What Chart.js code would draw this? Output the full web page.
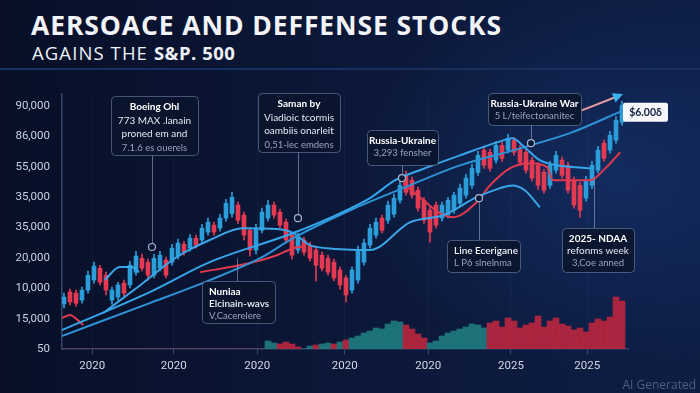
<!DOCTYPE html>
<html>
<head>
<meta charset="utf-8">
<script src="https://cdn.jsdelivr.net/npm/chart.js@4.4.1/dist/chart.umd.min.js"></script>
<style>
  html, body { margin: 0; padding: 0; }
  body {
    width: 700px; height: 393px; overflow: hidden; position: relative;
    background:
      radial-gradient(ellipse 55% 70% at 88% 45%, rgba(28, 62, 130, 0.45), rgba(0, 0, 0, 0) 70%),
      linear-gradient(90deg, #080f27 0%, #0b1737 45%, #0d1d44 100%);
    font-family: "Open Sans", sans-serif;
  }
  #title {
    position: absolute; left: 31px; top: 12px; margin: 0;
    font-size: 26.5px; line-height: 1; font-weight: 700; color: #f2f4f9; letter-spacing: 0.9px;
  }
  #subtitle {
    position: absolute; left: 32px; top: 44px; margin: 0;
    font-size: 18.5px; line-height: 1; font-weight: 400; color: #eef1f7; letter-spacing: 1.1px;
  }
  #subtitle b { font-weight: 700; letter-spacing: 0.5px; }
  #rule { position: absolute; left: 0; top: 68px; width: 700px; height: 2px; background: #17305e; }
  #stamp { position: absolute; right: 4px; top: 376px; font-size: 12px; color: #4f5e7b; }
  #chart { position: absolute; left: 0; top: 0; }
</style>
</head>
<body>
<h1 id="title">AERSOACE AND DEFFENSE STOCKS</h1>
<p id="subtitle">AGAINS THE <b>S&amp;P. 500</b></p>
<div id="rule"></div>
<canvas id="chart" width="700" height="393"></canvas>
<div id="stamp">AI Generated</div>
<script>
// axis labels (as printed on the picture)
const xLabels = ["2020", "2020", "2020", "2020", "2020", "2025", "2025"];
const xTickAt = [4.7, 18.3, 32.2, 46.8, 60.7, 74.5, 87.2];
const yLabels = ["50", "15,000", "10,000", "20,000", "35,000", "35,000", "55,000", "86,000", "90,000"];

// weekly candles, price in axis units (10 units per tick)
const opens = [
  14.8, 18.8, 18.4, 16.1, 19.4, 22.7, 26.6, 24.3, 16.1, 17.1,
  21.7, 21.1, 25.3, 29.9, 28.6, 24.3, 26.6, 29.3, 28.6, 30.6,
  34.5, 33.2, 36.5, 35.9, 38.5, 40.8, 39.8, 43.1, 44.6, 47.4,
  44.1, 39.1, 32.6, 39.1, 43.1, 47.4, 45.1, 41.8, 37.5, 32.6,
  35.9, 34.2, 32.6, 30.9, 29.9, 28.6, 26.0, 23.4, 19.4, 22.7,
  28.6, 34.2, 37.5, 43.1, 42.4, 44.4, 49.0, 57.2, 55.6, 52.3,
  49.0, 45.7, 47.4, 43.1, 44.1, 45.7, 48.0, 50.7, 53.9, 58.2,
  65.5, 64.8, 62.2, 67.1, 65.5, 68.8, 66.1, 64.8, 62.2, 60.5,
  58.2, 53.9, 58.9, 62.2, 60.5, 55.6, 53.9, 49.7, 53.9, 58.9,
  67.8, 65.5, 68.8, 74.7
];
const closes = [
  17.1, 15.5, 15.1, 19.4, 24.3, 27.3, 22.0, 19.4, 19.4, 21.1,
  18.4, 27.6, 30.6, 26.6, 24.3, 29.9, 30.9, 24.3, 33.2, 34.9,
  31.9, 36.5, 34.2, 39.8, 41.8, 38.5, 43.1, 48.0, 50.0, 42.4,
  37.5, 32.6, 39.8, 45.1, 47.4, 44.1, 40.8, 35.9, 30.9, 36.8,
  31.9, 29.9, 27.6, 26.6, 25.3, 23.4, 21.1, 17.8, 26.0, 32.6,
  34.9, 39.8, 41.8, 39.1, 47.4, 49.7, 53.9, 51.6, 50.7, 46.4,
  42.4, 38.5, 40.8, 47.4, 49.0, 50.7, 53.0, 56.3, 59.5, 63.8,
  60.5, 59.5, 67.1, 62.8, 69.4, 64.8, 61.5, 58.9, 56.3, 53.9,
  52.3, 60.5, 63.8, 57.2, 52.3, 47.4, 45.7, 55.6, 60.5, 65.5,
  62.8, 70.4, 75.3, 80.3
];
const highs = [
  18.4, 19.7, 19.4, 20.4, 25.7, 28.6, 27.6, 25.3, 20.4, 22.0,
  22.7, 28.9, 32.2, 31.3, 29.6, 31.3, 32.2, 30.3, 34.5, 36.2,
  35.5, 37.8, 37.5, 41.1, 43.1, 41.8, 44.4, 49.3, 51.6, 48.4,
  45.1, 40.1, 41.1, 46.4, 49.0, 48.4, 46.1, 42.8, 38.5, 38.2,
  36.8, 35.2, 33.6, 31.9, 30.9, 29.6, 27.0, 24.3, 27.0, 33.9,
  36.2, 41.1, 43.1, 44.1, 48.7, 51.0, 55.3, 58.6, 56.6, 53.3,
  50.0, 46.7, 48.4, 48.4, 50.0, 51.6, 54.3, 57.6, 60.9, 65.1,
  66.8, 65.8, 68.4, 68.1, 70.7, 69.7, 67.1, 65.8, 63.2, 61.5,
  59.2, 61.8, 65.1, 63.2, 61.5, 56.6, 54.9, 56.9, 61.8, 66.8,
  68.8, 71.7, 76.6, 81.6
];
const lows = [
  13.5, 14.5, 14.1, 15.1, 18.4, 21.7, 21.1, 17.8, 14.8, 16.1,
  17.4, 20.1, 24.3, 25.7, 22.7, 23.4, 25.7, 23.4, 27.6, 29.6,
  30.9, 32.2, 33.2, 34.9, 37.5, 37.5, 38.8, 42.1, 43.4, 41.4,
  35.9, 30.6, 31.3, 38.2, 42.1, 43.1, 39.8, 34.9, 29.6, 31.6,
  30.9, 28.9, 22.4, 25.7, 24.3, 22.4, 19.7, 15.5, 18.4, 21.7,
  27.6, 33.2, 36.5, 38.2, 41.4, 43.4, 48.0, 50.7, 49.7, 45.4,
  41.4, 35.2, 39.8, 42.1, 43.1, 44.7, 47.0, 49.7, 52.9, 57.2,
  59.5, 58.6, 61.2, 61.8, 64.5, 63.8, 60.5, 57.9, 55.3, 52.6,
  51.3, 52.9, 57.9, 56.3, 51.3, 46.4, 43.4, 48.7, 52.9, 57.9,
  61.8, 64.5, 67.8, 73.7
];

// volume per week and whether it was buy (1) or sell (0) volume
const volumes = [
  0, 0, 0, 0, 0, 0, 0, 0, 0, 0,
  0, 0, 0, 0, 0, 0, 0, 0, 0, 0,
  0, 0, 0, 0, 0, 0, 0, 0, 0, 0,
  0, 0, 0, 0, 8, 6, 5, 7, 5, 2,
  0, 3, 4, 5, 6, 5, 7, 9, 11, 13,
  16, 18, 21, 20, 25, 28, 27, 24, 20, 15,
  11, 6, 8, 13, 16, 18, 20, 22, 25, 24,
  21, 26, 28, 22, 31, 28, 21, 24, 26, 33,
  22, 28, 31, 25, 23, 19, 21, 17, 26, 30,
  28, 32, 52, 48
];
const volUp = [
  0, 0, 0, 0, 0, 0, 0, 0, 0, 0,
  0, 0, 0, 0, 0, 0, 0, 0, 0, 0,
  0, 0, 0, 0, 0, 0, 0, 0, 0, 0,
  0, 0, 0, 0, 1, 1, 0, 0, 0, 0,
  1, 1, 0, 1, 1, 0, 1, 0, 1, 1,
  1, 1, 1, 1, 1, 1, 1, 0, 0, 0,
  0, 1, 1, 1, 1, 1, 1, 1, 1, 1,
  1, 0, 0, 0, 0, 0, 0, 0, 0, 0,
  0, 0, 0, 0, 0, 0, 0, 0, 0, 0,
  0, 0, 0, 0
];

// overlay lines: week index / value
const trendAx = [-0.33, 14.3, 24.3, 38.2, 46.0, 51.0, 55.2, 59.3, 66.0, 72.7, 74.7, 76.8, 79.3, 82.2, 87.7];
const trendAy = [6.25, 18.75, 28.6, 38.2, 44.7, 49.7, 55.6, 58.9, 63.8, 68.4, 69.4, 66.4, 62.2, 60.5, 59.5];
const trendCx = [-0.33, 14.3, 24.3, 32.7, 38.2, 47.7, 56.5, 66.0, 76.0, 84.3, 93.2];
const trendCy = [4.3, 15.1, 22.7, 29.9, 36.5, 45.7, 53.0, 60.5, 66.1, 71.1, 78.6];
const waveBx = [6.5, 12.7, 18.8, 24.3, 29.8, 35.5, 38.2, 41.0, 43.8, 51.0, 57.7, 63.2, 68.8, 72.7, 74.7, 76.8, 79.3];
const waveBy = [11.8, 21.0, 30.3, 35.9, 39.8, 39.5, 38.2, 34.2, 33.2, 32.6, 41.8, 44.1, 50.0, 53.0, 53.9, 52.3, 46.7];
const bumpDx = [6.8, 9.3, 11.3, 12.5];
const bumpDy = [22.7, 27.0, 27.0, 25.3];
const redAx = [-0.33, 1.0, 2.3, 3.2];
const redAy = [10.2, 11.2, 9.5, 7.9];
const redBx = [22.7, 31.0, 35.5, 38.2, 40.2];
const redBy = [25.3, 28.3, 30.9, 33.2, 33.9];
const redCx = [56.5, 60.5, 62.7, 64.8, 68.8, 71.0, 74.3, 77.7, 80.5, 81.5, 87.7, 90.2, 92.7];
const redCy = [54.6, 48.0, 44.7, 43.4, 48.4, 53.9, 59.5, 61.2, 59.9, 55.6, 55.6, 59.5, 64.8];

const UP = "#2b9ed9", DOWN = "#e33a52";
const idx = opens.map((_, i) => i);
const candleCol = idx.map(i => (closes[i] >= opens[i] ? UP : DOWN));
const volCol = idx.map(i => (volUp[i] ? "rgba(30,124,126,0.9)" : "rgba(186,38,62,0.9)"));
const pts = (xs, ys) => xs.map((v, k) => ({ x: v, y: ys[k] }));

function lineSet(xs, ys, color, width) {
  return {
    type: "line", data: pts(xs, ys), borderColor: color, borderWidth: width,
    pointRadius: 0, fill: false, cubicInterpolationMode: "monotone", order: 1
  };
}

// callouts: anchor in data units, box in page pixels
const notes = [
  { at: [14.67, 33.6], ring: true, box: [111, 96, 87, 59], align: "center", first: 11, step: 13.5,
    lines: [["Boeing Ohl", "b"], ["773 MAX .lanain", "w"], ["proned em and", "w"], ["7.1.6 es ouerels", "g"]] },
  { at: [39.0, 43.1], ring: true, box: [258, 93, 82, 59], align: "center", first: 11, step: 13.5,
    lines: [["Saman by", "b"], ["Viadioic tcormis", "w"], ["oambiis onarleit", "w"], ["0,51-lec emdens", "g"]] },
  { at: [56.33, 56.3], ring: true, box: [367, 130, 71, 35], align: "center", first: 10.5, step: 12,
    lines: [["Russia-Ukraine", "b"], ["3,293 fensher", "g"]] },
  { at: [77.83, 67.8], ring: true, box: [488, 93, 93, 32], align: "center", first: 10.5, step: 12.5,
    lines: [["Russia-Ukraine War", "b"], ["5 L/teifectonanitec", "g"]] },
  { at: [28.83, 29.9], ring: false, box: [202, 281, 73, 42], align: "left", first: 10.5, step: 12,
    lines: [["Nuniaa", "b"], ["Elcinain-wavs", "s"], ["V,Cacerelere", "g"]] },
  { at: [69.17, 49.7], ring: true, box: [447, 240, 73, 32], align: "left", first: 10.5, step: 12,
    lines: [["Line Ecerigane", "s"], ["L P6 slnelnma", "g"]] },
  { at: [88.33, 56.3], ring: false, box: [562, 228, 72, 44], align: "center", first: 11, step: 12,
    lines: [["2025- NDAA", "b"], ["refonms week", "w"], ["3,Coe anned", "g"]] }
];
const lineStyle = {
  b: ["bold 10px Lato", "#ffffff"],
  s: ["600 10px Lato", "#eef1f7"],
  w: ["10px Lato", "#e4e8f0"],
  g: ["9.5px Lato", "#98a4bb"]
};

function roundRect(ctx, x, y, w, h, r) {
  ctx.beginPath();
  ctx.moveTo(x + r, y);
  ctx.arcTo(x + w, y, x + w, y + h, r);
  ctx.arcTo(x + w, y + h, x, y + h, r);
  ctx.arcTo(x, y + h, x, y, r);
  ctx.arcTo(x, y, x + w, y, r);
  ctx.closePath();
}

const callouts = {
  id: "callouts",
  afterDatasetsDraw(chart) {
    const { ctx, scales: { x, y } } = chart;
    ctx.save();

    // trend arrow and last price tag
    const a0x = x.getPixelForValue(86.3), a0y = y.getPixelForValue(78.6);
    const a1x = x.getPixelForValue(92.7), a1y = y.getPixelForValue(83.6);
    ctx.strokeStyle = "#e79c9f"; ctx.lineWidth = 2;
    ctx.beginPath(); ctx.moveTo(a0x, a0y); ctx.lineTo(a1x, a1y); ctx.stroke();
    const ang = Math.atan2(a1y - a0y, a1x - a0x);
    ctx.fillStyle = "#3db4ee";
    ctx.beginPath();
    ctx.moveTo(a1x + 3 * Math.cos(ang), a1y + 3 * Math.sin(ang));
    ctx.lineTo(a1x - 7 * Math.cos(ang) - 5 * Math.sin(ang), a1y - 7 * Math.sin(ang) + 5 * Math.cos(ang));
    ctx.lineTo(a1x - 7 * Math.cos(ang) + 5 * Math.sin(ang), a1y - 7 * Math.sin(ang) - 5 * Math.cos(ang));
    ctx.closePath(); ctx.fill();

    const last = closes.length - 1;
    const tx = x.getPixelForValue(last) + 1, ty = y.getPixelForValue(closes[last]) + 7;
    ctx.fillStyle = "#f5f7fb";
    roundRect(ctx, tx, ty - 9.5, 45, 19, 2); ctx.fill();
    ctx.fillStyle = "#12203f"; ctx.font = "bold 10.5px Lato";
    ctx.textAlign = "center"; ctx.textBaseline = "middle";
    ctx.fillText("$6.00\u03b4", tx + 22.5, ty);

    notes.forEach(n => {
      const [bx, by, bw, bh] = n.box;
      const ax = x.getPixelForValue(n.at[0]), ay = y.getPixelForValue(n.at[1]);
      const edge = ay > by ? by + bh : by;
      ctx.strokeStyle = "rgba(165,182,210,0.55)"; ctx.lineWidth = 1;
      ctx.beginPath(); ctx.moveTo(Math.round(ax) + 0.5, edge); ctx.lineTo(Math.round(ax) + 0.5, ay); ctx.stroke();
      if (n.ring) {
        ctx.fillStyle = "#0b1836"; ctx.strokeStyle = "#a5b6cf"; ctx.lineWidth = 1.2;
        ctx.beginPath(); ctx.arc(ax, ay, 3.5, 0, Math.PI * 2); ctx.fill(); ctx.stroke();
      }
      ctx.fillStyle = "rgba(10,20,44,0.88)";
      ctx.strokeStyle = "rgba(120,142,178,0.55)"; ctx.lineWidth = 1;
      roundRect(ctx, bx + 0.5, by + 0.5, bw, bh, 4); ctx.fill(); ctx.stroke();
      ctx.textBaseline = "middle";
      ctx.textAlign = n.align;
      const tx2 = n.align === "center" ? bx + bw / 2 : bx + 7;
      n.lines.forEach(([text, kind], k) => {
        ctx.font = lineStyle[kind][0]; ctx.fillStyle = lineStyle[kind][1];
        ctx.fillText(text, tx2, by + n.first + k * n.step);
      });
    });
    ctx.restore();
  }
};

new Chart(document.getElementById("chart"), {
  data: {
    datasets: [
      lineSet(trendAx, trendAy, "#35a6ea", 2),
      lineSet(trendCx, trendCy, "#2d93d6", 2),
      lineSet(waveBx, waveBy, "#3aa5e6", 2),
      lineSet(bumpDx, bumpDy, "#3aa5e6", 2),
      lineSet(redAx, redAy, "#e2394f", 2),
      lineSet(redBx, redBy, "#e2394f", 2),
      lineSet(redCx, redCy, "#e2394f", 2),
      {
        type: "bar", data: idx.map(i => ({ x: i, y: [opens[i], closes[i]] })),
        backgroundColor: candleCol, barThickness: 4, grouped: false, order: 3
      },
      {
        type: "bar", data: idx.map(i => ({ x: i, y: [lows[i], highs[i]] })),
        backgroundColor: candleCol, barThickness: 1, grouped: false, order: 4
      },
      {
        type: "bar", yAxisID: "yv", data: idx.map(i => ({ x: i, y: volumes[i] })),
        backgroundColor: volCol, barThickness: 6, grouped: false, order: 10
      }
    ]
  },
  options: {
    responsive: false,
    animation: false,
    devicePixelRatio: 1,
    layout: { padding: { left: 0, right: 72, top: 94, bottom: 0 } },
    plugins: { legend: { display: false }, tooltip: { enabled: false }, title: { display: false } },
    scales: {
      x: {
        type: "linear", min: -0.33, max: 94, offset: false,
        afterBuildTicks: s => { s.ticks = xTickAt.map(v => ({ value: v })); },
        afterFit: s => { s.height = 44; },
        ticks: {
          color: "#d3d9e6", font: { family: "Roboto", size: 11.5 }, padding: 5,
          maxRotation: 0, autoSkip: false, callback: (v, k) => xLabels[k]
        },
        grid: { offset: false, color: "rgba(130,160,210,0.07)", tickColor: "#3a4d72", tickLength: 5 },
        border: { color: "#34476d", width: 1.5 }
      },
      y: {
        min: 0, max: 84,
        afterBuildTicks: s => { s.ticks = yLabels.map((_, k) => ({ value: k * 10 })); },
        afterFit: s => { s.width = 62; },
        ticks: {
          color: "#c9d1e2", font: { family: "Roboto", size: 11.5 }, padding: 4,
          callback: (v, k) => yLabels[k]
        },
        grid: { display: false },
        border: { color: "#34476d", width: 1.5 }
      },
      yv: { min: 0, max: 255, display: false }
    }
  },
  plugins: [callouts]
});
</script>
</body>
</html>
